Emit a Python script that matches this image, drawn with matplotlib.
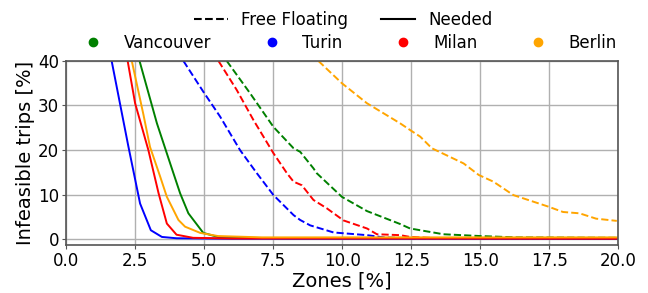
import numpy as np
import matplotlib.pyplot as plt
from matplotlib.lines import Line2D

# Needed (solid) curves
van_need_x = [2.66, 3.29, 3.77, 4.13, 4.43, 4.97, 5.5, 6.5, 8.0, 20.0]
van_need_y = [40, 26, 17, 10.3, 5.8, 1.4, 0.5, 0.3, 0.2, 0.2]
tur_need_x = [1.65, 2.25, 2.68, 3.07, 3.47, 4.0, 6.0, 20.0]
tur_need_y = [40, 21, 8.0, 2.0, 0.5, 0.2, 0.1, 0.1]
mil_need_x = [2.23, 2.5, 2.98, 3.35, 3.65, 4.0, 4.6, 6.0, 20.0]
mil_need_y = [40, 30.5, 20, 10.3, 3.5, 1.0, 0.3, 0.15, 0.1]
ber_need_x = [2.38, 2.8, 3.04, 3.41, 3.65, 4.07, 4.31, 4.86, 5.5, 7.1, 20.0]
ber_need_y = [40, 28, 20.7, 14, 9.5, 4.3, 2.8, 1.4, 0.7, 0.4, 0.4]

# Free floating (dashed) curves
van_ff_x = [5.82, 6.67, 7.51, 8.24, 8.48, 8.96, 9.08, 9.99, 10.9, 12.1, 12.46, 13.67, 15.0, 16.3, 20.0]
van_ff_y = [40, 32.7, 25.2, 20.4, 19.6, 15.9, 14.8, 9.5, 6.3, 3.4, 2.4, 1.1, 0.7, 0.4, 0.3]
tur_ff_x = [4.25, 4.97, 5.58, 6.3, 6.91, 7.51, 8.24, 8.48, 8.84, 9.69, 10.9, 11.5, 12.5, 20.0]
tur_ff_y = [40, 33.1, 27.5, 20, 14.8, 9.9, 5.4, 4.3, 3.1, 1.5, 0.9, 0.4, 0.2, 0.1]
mil_ff_x = [5.52, 6.18, 6.79, 7.51, 8.0, 8.24, 8.54, 8.96, 9.45, 10.05, 10.9, 11.26, 12.1, 12.46, 13.5, 20.0]
mil_ff_y = [40, 33.5, 26.7, 19.3, 14.8, 12.9, 12.1, 8.8, 6.9, 4.2, 2.4, 1.1, 0.9, 0.5, 0.2, 0.1]
ber_ff_x = [9.14, 9.99, 10.9, 12.1, 12.46, 12.83, 13.25, 14.4, 14.95, 15.48, 16.2, 17.47, 18.0, 18.6, 19.2, 19.95]
ber_ff_y = [40, 35, 30.5, 26, 24.5, 23, 20.4, 17, 14.4, 12.9, 9.9, 7.3, 6.1, 5.8, 4.6, 4.1]

cities = ['Vancouver', 'Turin', 'Milan', 'Berlin']
colors = ['green', 'blue', 'red', 'orange']

plt.rcParams['font.family'] = 'DejaVu Sans'
fig = plt.figure(figsize=(6.48, 2.93), dpi=100)
ax = fig.add_axes([0.102, 0.164, 0.852, 0.628])

need = [(van_need_x, van_need_y), (tur_need_x, tur_need_y),
        (mil_need_x, mil_need_y), (ber_need_x, ber_need_y)]
ff = [(van_ff_x, van_ff_y), (tur_ff_x, tur_ff_y),
      (mil_ff_x, mil_ff_y), (ber_ff_x, ber_ff_y)]

for (x, y), c in zip(ff, colors):
    ax.plot(x, y, color=c, linestyle='--', linewidth=1.4)
for (x, y), c in zip(need, colors):
    ax.plot(x, y, color=c, linestyle='-', linewidth=1.4)

ax.set_xlim(0, 20)
ax.set_ylim(-1.3, 40)
ax.set_xticks(np.arange(0, 20.1, 2.5))
ax.set_yticks([0, 10, 20, 30, 40])
ax.grid(True, color='#b0b0b0', linewidth=1)
ax.set_axisbelow(True)
for s in ax.spines.values():
    s.set_color('#555555')
    s.set_linewidth(1.2)
ax.tick_params(labelsize=12, color='#555555', length=3, pad=2)
ax.set_xlabel('Zones [%]', fontsize=14, labelpad=1)
ax.set_ylabel('Infeasible trips [%]', fontsize=14, labelpad=2)

style_handles = [Line2D([], [], color='black', linestyle='--', linewidth=1.5),
                 Line2D([], [], color='black', linestyle='-', linewidth=1.5)]
fig.legend(style_handles, ['Free Floating', 'Needed'], ncol=2,
           loc='center', bbox_to_anchor=(0.53, 0.932), frameon=False,
           fontsize=12, handlelength=2.0, columnspacing=2.0)
city_handles = [Line2D([], [], color=c, marker='o', linestyle='', markersize=6)
                for c in colors]
fig.legend(city_handles, cities, ncol=4, loc='center',
           bbox_to_anchor=(0.535, 0.853), frameon=False, fontsize=12,
           handlelength=2.0, columnspacing=2.66)

fig.savefig('out.png', dpi=100)
